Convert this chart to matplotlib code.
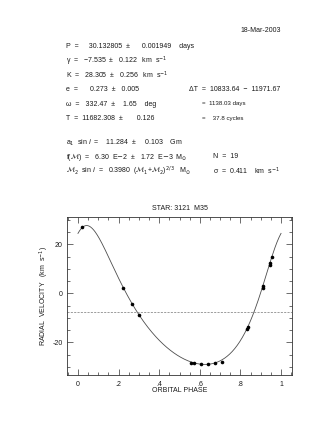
import numpy as np
import matplotlib
matplotlib.use("Agg")
import matplotlib.pyplot as plt
from matplotlib.ticker import MultipleLocator, FixedLocator, FixedFormatter

# orbital elements printed on the chart
period = 30.132805
gamma = -7.535
k_amp = 28.305
ecc = 0.273
omega_deg = 332.47

phase = [0.018, 0.223, 0.266, 0.302, 0.558, 0.573, 0.604, 0.642, 0.675, 0.708,
         0.833, 0.836, 0.910, 0.911, 0.945, 0.947, 0.954]
velocity = [26.9, 2.0, -4.4, -8.9, -28.4, -28.4, -28.7, -29.0, -28.4, -28.2,
            -14.6, -13.9, 2.9, 2.2, 11.5, 12.2, 14.7]

xtick_vals = [0, 0.2, 0.4, 0.6, 0.8, 1.0]
xtick_labels = ["0", ".2", ".4", ".6", ".8", "1"]
ytick_vals = [-20, 0, 20]

W, H = 327, 423
FS = 5.0
TXT = "#1a1a1a"


def orbit_curve(ph):
    m = 2 * np.pi * ph
    e_anom = m.copy()
    for _ in range(50):
        e_anom = e_anom - (e_anom - ecc * np.sin(e_anom) - m) / (1 - ecc * np.cos(e_anom))
    nu = 2 * np.arctan(np.sqrt((1 + ecc) / (1 - ecc)) * np.tan(e_anom / 2))
    w = np.radians(omega_deg)
    return gamma + k_amp * (np.cos(nu + w) + ecc * np.cos(w))


def ftext(fig, x, y, s, size=FS, ha="left"):
    fig.text(x / W, 1 - y / H, s, fontsize=size, ha=ha, va="center", color=TXT)


def main() -> None:
    plt.rcParams["font.family"] = ["Liberation Sans", "DejaVu Sans"]
    plt.rcParams["mathtext.fontset"] = "dejavusans"
    plt.rcParams["axes.unicode_minus"] = False

    fig = plt.figure(figsize=(W / 100, H / 100), dpi=100)
    fig.patch.set_facecolor("white")

    # header block
    ftext(fig, 281, 31, "18-Mar-2003", ha="right")
    ftext(fig, 66.5, 46.5, "P  =     30.132805  ±      0.001949    days")
    ftext(fig, 66.5, 61, "γ  =   \u22127.535  ±   0.122   km  s$^{-1}$")
    ftext(fig, 66.5, 75, "K  =   28.305  ±   0.256   km  s$^{-1}$")
    ftext(fig, 66.5, 89.5, "e  =      0.273  ±   0.005")
    ftext(fig, 66.5, 104, "ω  =   332.47  ±    1.65    deg")
    ftext(fig, 66.5, 118.5, "T  =  11682.308  ±       0.126")
    ftext(fig, 189, 89.5, "ΔT  =  10833.64  \u2212  11971.67")
    ftext(fig, 202, 104, "=  1138.03 days", size=4.4)
    ftext(fig, 202, 118.5, "=    37.8 cycles", size=4.4)

    ftext(fig, 66.5, 143, r"a$_1$  sin $\it{i}$  =    11.284  ±     0.103    Gm")
    ftext(fig, 66.5, 157, r"f($\mathcal{M}$)  =   6.30  E$-$2  ±   1.72  E$-$3  M$_{\odot}$")
    ftext(fig, 66.5, 171, r"$\mathcal{M}_2$  sin $\it{i}$  =   0.3980  ($\mathcal{M}_1$+$\mathcal{M}_2$)$^{2/3}$   M$_{\odot}$")
    ftext(fig, 213, 157, "N  =  19")
    ftext(fig, 213, 171, "σ  =  0.411    km  s$^{-1}$")

    ax = fig.add_axes([67 / W, 1 - 375 / H, (292 - 67) / W, (375 - 217) / H])

    ph = np.linspace(0, 1, 400)
    ax.plot(ph, orbit_curve(ph), color="#4d4d4d", lw=0.6)
    ax.axhline(gamma, color="#8c8c8c", lw=0.6, ls=(0, (2.5, 1.5)))
    ax.plot(phase, velocity, "o", color="black", ms=2.6, mew=0)

    ax.set_xlim(-0.054, 1.054)
    ax.set_ylim(-33.3, 31.1)

    ax.xaxis.set_major_locator(FixedLocator(xtick_vals))
    ax.xaxis.set_major_formatter(FixedFormatter(xtick_labels))
    ax.xaxis.set_minor_locator(MultipleLocator(0.05))
    ax.yaxis.set_major_locator(FixedLocator(ytick_vals))
    ax.yaxis.set_minor_locator(MultipleLocator(5))
    ax.tick_params(which="both", direction="in", top=True, right=True,
                   labelsize=FS, width=0.5, color="#333333", labelcolor=TXT)
    ax.tick_params(axis="x", which="major", length=4.3, pad=4)
    ax.tick_params(axis="y", which="major", length=4.3, pad=3)
    ax.tick_params(which="minor", length=2.4)
    for sp in ax.spines.values():
        sp.set_linewidth(0.6)
        sp.set_color("#333333")

    ax.text(0.5, 1 + 8.7 / 158, "STAR: 3121  M35", transform=ax.transAxes,
            fontsize=FS, ha="center", va="center", color=TXT)
    ax.set_xlabel("ORBITAL PHASE", fontsize=FS, color=TXT)
    ax.xaxis.set_label_coords(0.5, -15.7 / 158)
    ax.xaxis.label.set_va("center")
    ax.set_ylabel(r"RADIAL  VELOCITY   (km  s$^{-1}$)", fontsize=FS, color=TXT)
    ax.yaxis.set_label_coords(-23 / 225, 0.5)
    ax.yaxis.label.set_va("center")

    fig.savefig("out.png", dpi=100)
    plt.close(fig)


if __name__ == "__main__":
    main()
